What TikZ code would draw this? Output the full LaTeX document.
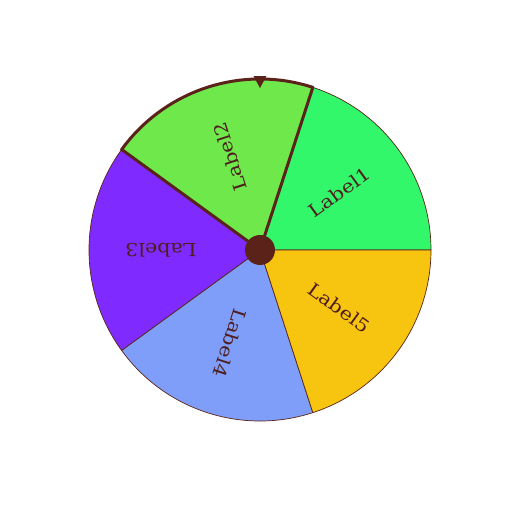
\documentclass[tikz,border=0pt]{standalone}
\usepackage{fontspec}
\newfontfamily\labfont[FakeStretch=1.15]{DejaVu Serif}
\definecolor{cone}{HTML}{33F76B}
\definecolor{ctwo}{HTML}{6EE84B}
\definecolor{cthree}{HTML}{7F2BFF}
\definecolor{cfour}{HTML}{7F9EF9}
\definecolor{cfive}{HTML}{F7C410}
\definecolor{dark}{HTML}{5A2219}
\definecolor{txt}{HTML}{4E1E1E}
\tikzset{
  sector/.style={draw=dark, line width=0.7pt, line join=round},
  lab/.style={font=\labfont\fontsize{18}{20}\selectfont, text=txt, inner sep=0pt},
}
\begin{document}
\begin{tikzpicture}[x=1pt,y=1pt]
\useasboundingbox (-260,-262) rectangle (252,250);
\def\R{171}
\filldraw[sector, fill=cone] (0,0) -- (0:\R) arc[start angle=0, end angle=72, radius=\R] -- cycle;
\filldraw[sector, fill=ctwo] (0,0) -- (72:\R) arc[start angle=72, end angle=144, radius=\R] -- cycle;
\filldraw[sector, fill=cthree] (0,0) -- (144:\R) arc[start angle=144, end angle=216, radius=\R] -- cycle;
\filldraw[sector, fill=cfour] (0,0) -- (216:\R) arc[start angle=216, end angle=288, radius=\R] -- cycle;
\filldraw[sector, fill=cfive] (0,0) -- (288:\R) arc[start angle=288, end angle=360, radius=\R] -- cycle;
\draw[dark, line width=3pt, line join=round] (0,0) -- (72:\R) arc[start angle=72, end angle=144, radius=\R] -- cycle;
\node[lab, rotate=36] (l1) at (36:98) {Label1};
\node[lab, rotate=108] (l2) at (108:98) {Label2};
\node[lab, rotate=180] (l3) at (180:99) {Label3};
\node[lab, rotate=252] (l4) at (252:98) {Label4};
\node[lab, rotate=324] (l5) at (324:98) {Label5};
\node[circle, fill=dark, minimum size=30pt, inner sep=0pt] (hub) at (0,0) {};
\fill[dark] (-6.5,174) -- (6.5,174) -- (0,162) -- cycle;
\end{tikzpicture}
\end{document}
